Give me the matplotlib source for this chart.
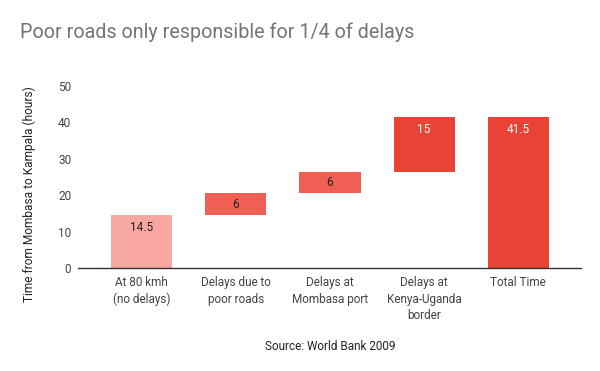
import matplotlib.pyplot as plt

# Waterfall data (hours)
categories = ["At 80 kmh\n(no delays)", "Delays due to\npoor roads",
              "Delays at\nMombasa port", "Delays at\nKenya-Uganda\nborder", "Total Time"]
values = [14.5, 6, 6, 15, 41.5]
bar_labels = ["14.5", "6", "6", "15", "41.5"]
colors = ["#F7A7A0", "#EF5F53", "#EF5F53", "#EA4335", "#EA4335"]
label_colors = ["#222222", "#222222", "#222222", "white", "white"]

plt.rcParams['font.family'] = ['Roboto', 'DejaVu Sans']

fig = plt.figure(figsize=(6, 3.71), dpi=100)
ax = fig.add_axes([0.158, 0.2776, 0.784, 0.4905])

# bottoms: running total for steps, zero for first and total
bottoms = []
running = 0
for i, v in enumerate(values):
    if i == 0 or i == len(values) - 1:
        bottoms.append(0)
    else:
        bottoms.append(running)
    if i < len(values) - 1:
        running += v

x = range(len(values))
ax.bar(x, values, bottom=bottoms, width=0.65, color=colors)

# labels near the top of each bar, centred for short bars
for i, v in enumerate(values):
    y = max(bottoms[i] + v / 2, bottoms[i] + v - 3.5)
    ax.text(i, y, bar_labels[i], ha="center", va="center",
            fontsize=8.5, color=label_colors[i])

ax.set_xlim(-0.5, len(values) - 0.5)
ax.set_ylim(0, 50)
ax.set_yticks(range(0, 51, 10))
ax.set_xticks(list(x))
ax.set_xticklabels(categories, fontsize=8.5, color="#444444", linespacing=1.35)
ax.tick_params(axis="y", labelsize=8.5, labelcolor="#444444", length=0, pad=17)
ax.tick_params(axis="x", length=0, pad=6)
for s in ax.spines.values():
    s.set_visible(False)
# baseline runs a little past the plot area on both sides
ax.axhline(0, xmin=-0.036, xmax=1.034, color="#333333", lw=1, clip_on=False)

ax.set_ylabel("Time from Mombasa to Kampala (hours)", fontsize=8.6, color="#222222")
ax.yaxis.set_label_coords(-0.125, 0.407)

fig.text(0.033, 0.913, "Poor roads only responsible for 1/4 of delays",
         fontsize=14.2, color="#757575", va="center")
fig.text(0.55, 0.067, "Source: World Bank 2009", fontsize=8.5, color="#222222",
         ha="center", va="center")

fig.savefig("out.png", dpi=100)
